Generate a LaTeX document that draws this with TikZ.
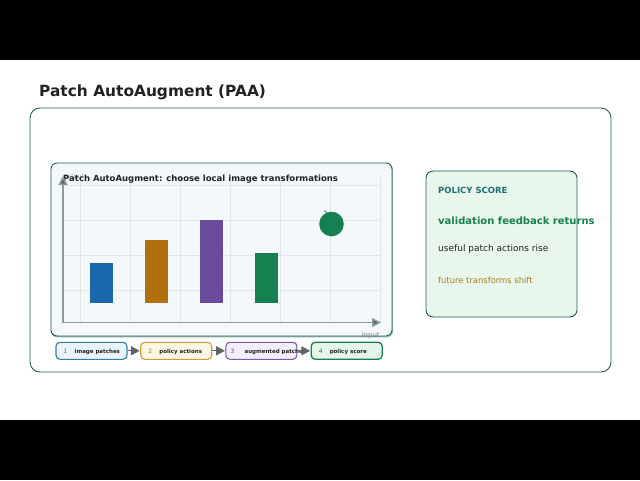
\documentclass[tikz,border=0pt]{standalone}
\usepackage{fontspec}
\setmainfont{DejaVu Sans}
\usepackage{tikz}
\usepackage{xcolor}
\usetikzlibrary{arrows.meta}
\usetikzlibrary{positioning}
\definecolor{frameteal}{RGB}{36,94,90}
\definecolor{shadeteal}{RGB}{150,185,182}
\definecolor{panelbg}{RGB}{244,248,251}
\definecolor{gridgray}{RGB}{222,231,235}
\definecolor{axisgray}{RGB}{140,154,156}
\definecolor{headgray}{RGB}{92,102,104}
\definecolor{barblue}{RGB}{26,103,173}
\definecolor{barorange}{RGB}{176,112,16}
\definecolor{barpurple}{RGB}{107,76,156}
\definecolor{bargreen}{RGB}{23,128,80}
\definecolor{cardbg}{RGB}{232,246,236}
\definecolor{cardline}{RGB}{31,95,85}
\definecolor{tealtext}{RGB}{31,111,112}
\definecolor{goldtext}{RGB}{166,124,31}
\definecolor{darktext}{RGB}{34,34,34}
\definecolor{bluebg}{RGB}{232,243,251}
\definecolor{blueline}{RGB}{58,124,160}
\definecolor{goldbg}{RGB}{253,246,227}
\definecolor{goldline}{RGB}{200,160,64}
\definecolor{purplebg}{RGB}{244,238,250}
\definecolor{purpleline}{RGB}{122,92,168}
\definecolor{greenbg}{RGB}{230,245,234}
\tikzset{fsize/.style={font=\fontsize{#1}{#1}\selectfont},
 txt/.style={anchor=base west,inner sep=0pt},
 pipebox/.style={draw,rounded corners=4pt,minimum width=71pt,minimum height=17pt,inner sep=0pt,line width=1.1pt},
 pipenum/.style={txt,fsize=6},
 pipetext/.style={txt,fsize=5.5,font=\fontsize{5.5}{5.5}\selectfont\bfseries,darktext},
 pipearrow/.style={draw=headgray,line width=1.3pt,-{Triangle[length=9pt,width=9pt]},shorten >=0.3pt},
 axis/.style={draw=axisgray,line width=1.5pt,-{Triangle[length=9pt,width=9pt,fill=headgray]}},
 }

\begin{document}
\begin{tikzpicture}[x=1pt,y=-1pt]
        \useasboundingbox (0,0) rectangle (640,480);
        \fill[black] (0,0) rectangle (640,60);
        \fill[black] (0,420) rectangle (640,480);
        \fill[white] (0,60) rectangle (640,420);
        \node[txt, fsize=15.4, font=\fontsize{15.4}{15.4}\selectfont\bfseries, darktext] (title) at (39,96) {Patch AutoAugment (PAA)};
        \draw[frameteal, line width=0.9pt, rounded corners=10pt] (30,108) rectangle (611,372);
        \draw[shadeteal, line width=1.2pt, rounded corners=6pt] (51.5,164.5) rectangle (392.5,336.8);
        \draw[frameteal, fill=panelbg, line width=0.9pt, rounded corners=6pt] (51,163) rectangle (392,336);
        \foreach \gx in {80,130,...,380}
            \draw[gridgray, line width=0.6pt] (\gx,175) -- (\gx,322);
        \foreach \gy in {185,220,255,290}
            \draw[gridgray, line width=0.6pt] (63,\gy) -- (380,\gy);
        \fill[barblue] (90,263) rectangle (113,302.5);
        \fill[barorange] (145,240) rectangle (168,302.5);
        \fill[barpurple] (200,220) rectangle (222.5,302.5);
        \fill[bargreen] (255,253) rectangle (277.5,302.5);
        \fill[bargreen] (331.5,224) circle (12.3);
        \draw[bargreen, line width=1pt] (324.5,210.5) -- (326.5,212.5);
        \node[txt, fsize=6.5, gray!55] (ylab) at (63,178) {output};
        \node[txt, fsize=8.5, font=\fontsize{8.5}{8.5}\selectfont\bfseries, darktext] (charttitle) at (63,181) {Patch AutoAugment: choose local image transformations};
        \coordinate (origin) at (63,322.5);
        \coordinate (ytip) at (63,176);
        \coordinate (xtip) at (381,322.5);
        \draw[axis] (origin) -- (ytip);
        \draw[axis] (origin) -- (xtip);
        \node[txt, fsize=7, gray] (xlab) at (361.5,337.5) {input};
        \draw[cardline, fill=cardbg, line width=0.9pt, rounded corners=7pt] (426,171) rectangle (577,317);
        \node[txt, fsize=8.5, font=\fontsize{8.5}{8.5}\selectfont\bfseries, tealtext] (cardhead) at (438,193.5) {POLICY SCORE};
        \node[txt, fsize=10, font=\fontsize{10}{10}\selectfont\bfseries, bargreen] (cardmain) at (438,224.5) {validation feedback returns};
        \node[txt, fsize=9, darktext] (cardsub) at (438,251) {useful patch actions rise};
        \node[txt, fsize=8.4, goldtext] (cardnote) at (438,283.5) {future transforms shift};
        \node[pipebox, draw=blueline, fill=bluebg] (patches) at (91.5,350.8) {};
        \node[pipebox, draw=goldline, fill=goldbg] (actions) at (176.2,350.8) {};
        \node[pipebox, draw=purpleline, fill=purplebg] (augmented) at (261.4,350.8) {};
        \node[pipebox, draw=bargreen, fill=greenbg, line width=1.3pt] (score) at (346.7,350.8) {};
        \node[pipenum, blueline] (patches-n) at ([xshift=8pt,yshift=-2.2pt]patches.west) {1};
        \node[pipetext] (patches-t) at ([xshift=19pt,yshift=-2.2pt]patches.west) {image patches};
        \node[pipenum, barorange] (actions-n) at ([xshift=8pt,yshift=-2.2pt]actions.west) {2};
        \node[pipetext] (actions-t) at ([xshift=19pt,yshift=-2.2pt]actions.west) {policy actions};
        \node[pipenum, barpurple] (augmented-n) at ([xshift=5pt,yshift=-2.2pt]augmented.west) {3};
        \node[pipetext] (augmented-t) at ([xshift=19pt,yshift=-2.2pt]augmented.west) {augmented patches};
        \node[pipenum, bargreen] (score-n) at ([xshift=8pt,yshift=-2.2pt]score.west) {4};
        \node[pipetext] (score-t) at ([xshift=19pt,yshift=-2.2pt]score.west) {policy score};
        \draw[pipearrow] (patches) -- (actions);
        \draw[pipearrow] (actions) -- (augmented);
        \draw[pipearrow] (augmented) -- (score);
    \end{tikzpicture}
\end{document}
